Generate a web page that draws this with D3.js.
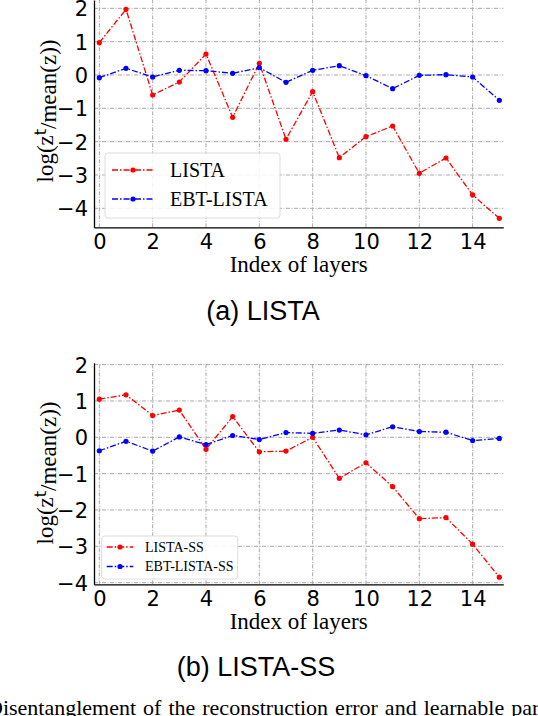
<!DOCTYPE html>
<html>
<head>
<meta charset="utf-8">
<script src="https://cdnjs.cloudflare.com/ajax/libs/d3/7.8.5/d3.min.js"></script>
<style>
  body { margin: 0; background: #fff; }
  svg { display: block; }
</style>
</head>
<body>
<div id="fig"></div>
<script>
// layer index on the x axis
var layers = [0, 1, 2, 3, 4, 5, 6, 7, 8, 9, 10, 11, 12, 13, 14, 15];

// panel (a)
var listaVals    = [0.97, 1.97, -0.60, -0.21, 0.63, -1.27, 0.35, -1.93, -0.50, -2.48, -1.85, -1.53, -2.95, -2.49, -3.60, -4.30];
var ebtListaVals = [-0.08, 0.20, -0.06, 0.14, 0.13, 0.05, 0.22, -0.22, 0.14, 0.28, -0.02, -0.41, -0.01, 0.01, -0.06, -0.76];

// panel (b)
var listaSsVals    = [1.05, 1.17, 0.60, 0.75, -0.33, 0.57, -0.40, -0.38, 0.00, -1.13, -0.70, -1.36, -2.24, -2.21, -2.94, -3.85];
var ebtListaSsVals = [-0.37, -0.11, -0.38, 0.01, -0.20, 0.05, -0.06, 0.13, 0.11, 0.20, 0.07, 0.29, 0.16, 0.14, -0.09, -0.03];

var xTicks = [0, 2, 4, 6, 8, 10, 12, 14];
var yTicks = [-4, -3, -2, -1, 0, 1, 2];

var W = 538, H = 716;
var svg = d3.select("#fig").append("svg")
  .attr("width", W)
  .attr("height", H);

function drawPanel(p) {
  var x = d3.scaleLinear().domain([-0.2, 15.15]).range([94, 503.3]);
  var y = d3.scaleLinear().domain(p.yDomain).range(p.yRange);

  var g = svg.append("g");

  // grid
  g.selectAll(".gx").data(xTicks).enter().append("line")
    .attr("x1", function(d){ return x(d); }).attr("x2", function(d){ return x(d); })
    .attr("y1", p.yRange[0]).attr("y2", p.yRange[1])
    .attr("stroke", "#a8a8a8").attr("stroke-width", 1)
    .attr("stroke-dasharray", "4,1.5,1,1.5");
  g.selectAll(".gy").data(yTicks).enter().append("line")
    .attr("x1", x.range()[0]).attr("x2", x.range()[1])
    .attr("y1", function(d){ return y(d); }).attr("y2", function(d){ return y(d); })
    .attr("stroke", "#a8a8a8").attr("stroke-width", 1)
    .attr("stroke-dasharray", "4,1.5,1,1.5");

  // axes via d3 axis generators, then restyle
  var xAxis = g.append("g")
    .attr("transform", "translate(0," + p.yRange[0] + ")")
    .call(d3.axisBottom(x).tickValues(xTicks).tickSize(0).tickPadding(1.5).tickFormat(d3.format("d")));
  var yAxis = g.append("g")
    .attr("transform", "translate(" + x.range()[0] + ",0)")
    .call(d3.axisLeft(y).tickValues(yTicks).tickSize(0).tickPadding(6)
      .tickFormat(function(d){ return d < 0 ? "\u2212" + Math.abs(d) : d; }));

  [xAxis, yAxis].forEach(function(a){
    a.select(".domain").attr("stroke", "#000").attr("stroke-width", 1.3);
    a.selectAll("text").attr("fill", "#000")
      .style("font-family", "'DejaVu Sans', sans-serif").style("font-size", "21px");
  });
  xAxis.selectAll("text").attr("dy", "0.95em");
  yAxis.selectAll("text").attr("dy", "0.36em");

  // series
  var line = d3.line()
    .x(function(d, i){ return x(layers[i]); })
    .y(function(d){ return y(d); });

  p.series.forEach(function(s){
    g.append("path")
      .datum(s.values)
      .attr("d", line)
      .attr("fill", "none")
      .attr("stroke", s.color)
      .attr("stroke-width", 1.3)
      .attr("stroke-dasharray", "6,2,1.5,2");
    g.selectAll(null).data(s.values).enter().append("circle")
      .attr("cx", function(d, i){ return x(layers[i]); })
      .attr("cy", function(d){ return y(d); })
      .attr("r", 2.6)
      .attr("fill", s.color);
  });

  // legend
  var L = p.legend;
  g.append("rect")
    .attr("x", L.x).attr("y", L.y).attr("width", L.w).attr("height", L.h)
    .attr("rx", 3).attr("ry", 3)
    .attr("fill", "#fff").attr("fill-opacity", 0.85)
    .attr("stroke", "#dcdcdc").attr("stroke-width", 1);
  p.series.forEach(function(s, i){
    var ly = L.firstY + i * L.step;
    g.append("line")
      .attr("x1", L.lineX0).attr("x2", L.lineX1)
      .attr("y1", ly).attr("y2", ly)
      .attr("stroke", s.color).attr("stroke-width", 1.3)
      .attr("stroke-dasharray", "6,2,1.5,2");
    g.append("circle")
      .attr("cx", (L.lineX0 + L.lineX1) / 2).attr("cy", ly).attr("r", 2.6)
      .attr("fill", s.color);
    g.append("text")
      .attr("x", L.textX).attr("y", ly).attr("dy", "0.35em")
      .style("font-family", "'Liberation Serif', 'Times New Roman', serif")
      .style("font-size", L.font + "px")
      .text(s.name);
  });

  // axis labels
  g.append("text")
    .attr("x", (x.range()[0] + x.range()[1]) / 2)
    .attr("y", p.yRange[0] + 44.5)
    .attr("text-anchor", "middle")
    .style("font-family", "'Liberation Serif', 'Times New Roman', serif")
    .style("font-size", "23px")
    .text("Index of layers");

  var yl = g.append("text")
    .attr("transform", "translate(53," + p.yLabelY + ") rotate(-90)")
    .attr("text-anchor", "middle")
    .style("font-family", "'Liberation Serif', 'Times New Roman', serif")
    .style("font-size", "23px");
  yl.append("tspan").text("log(z");
  yl.append("tspan").attr("dy", "-0.45em").style("font-size", "16px")
    .style("font-family", "'DejaVu Sans', sans-serif").text("t");
  yl.append("tspan").attr("dy", "0.45em").text("/mean(z))");

  // sub caption
  svg.append("text")
    .attr("x", p.titleX).attr("y", p.titleY)
    .attr("text-anchor", "middle")
    .style("font-family", "'Liberation Sans', Arial, sans-serif")
    .style("font-size", "27px")
    .text(p.title);
}

drawPanel({
  yDomain: [-4.57, 2.25], yRange: [227.3, 0],
  series: [
    { name: "LISTA", values: listaVals, color: "#ff0000" },
    { name: "EBT-LISTA", values: ebtListaVals, color: "#0000ff" }
  ],
  legend: { x: 105, y: 153, w: 175, h: 65, firstY: 170, step: 29,
            lineX0: 112, lineX1: 154, textX: 170, font: 20 },
  yLabelY: 111,
  title: "(a) LISTA", titleX: 263, titleY: 320
});

drawPanel({
  yDomain: [-4.045, 2.05], yRange: [584.3, 362.8],
  series: [
    { name: "LISTA-SS", values: listaSsVals, color: "#ff0000" },
    { name: "EBT-LISTA-SS", values: ebtListaSsVals, color: "#0000ff" }
  ],
  legend: { x: 101.7, y: 536, w: 136, h: 43, firstY: 547, step: 19.5,
            lineX0: 106.7, lineX1: 133.3, textX: 145, font: 14 },
  yLabelY: 473,
  title: "(b) LISTA-SS", titleX: 256, titleY: 676
});

// figure caption, cut at the page edges like the source crop
svg.append("text")
  .attr("x", -13).attr("y", 715)
  .style("font-family", "'Liberation Serif', 'Times New Roman', serif")
  .style("font-size", "22px")
  .style("word-spacing", "1.5px")
  .text("Disentanglement of the reconstruction error and learnable parameters");
</script>
</body>
</html>
